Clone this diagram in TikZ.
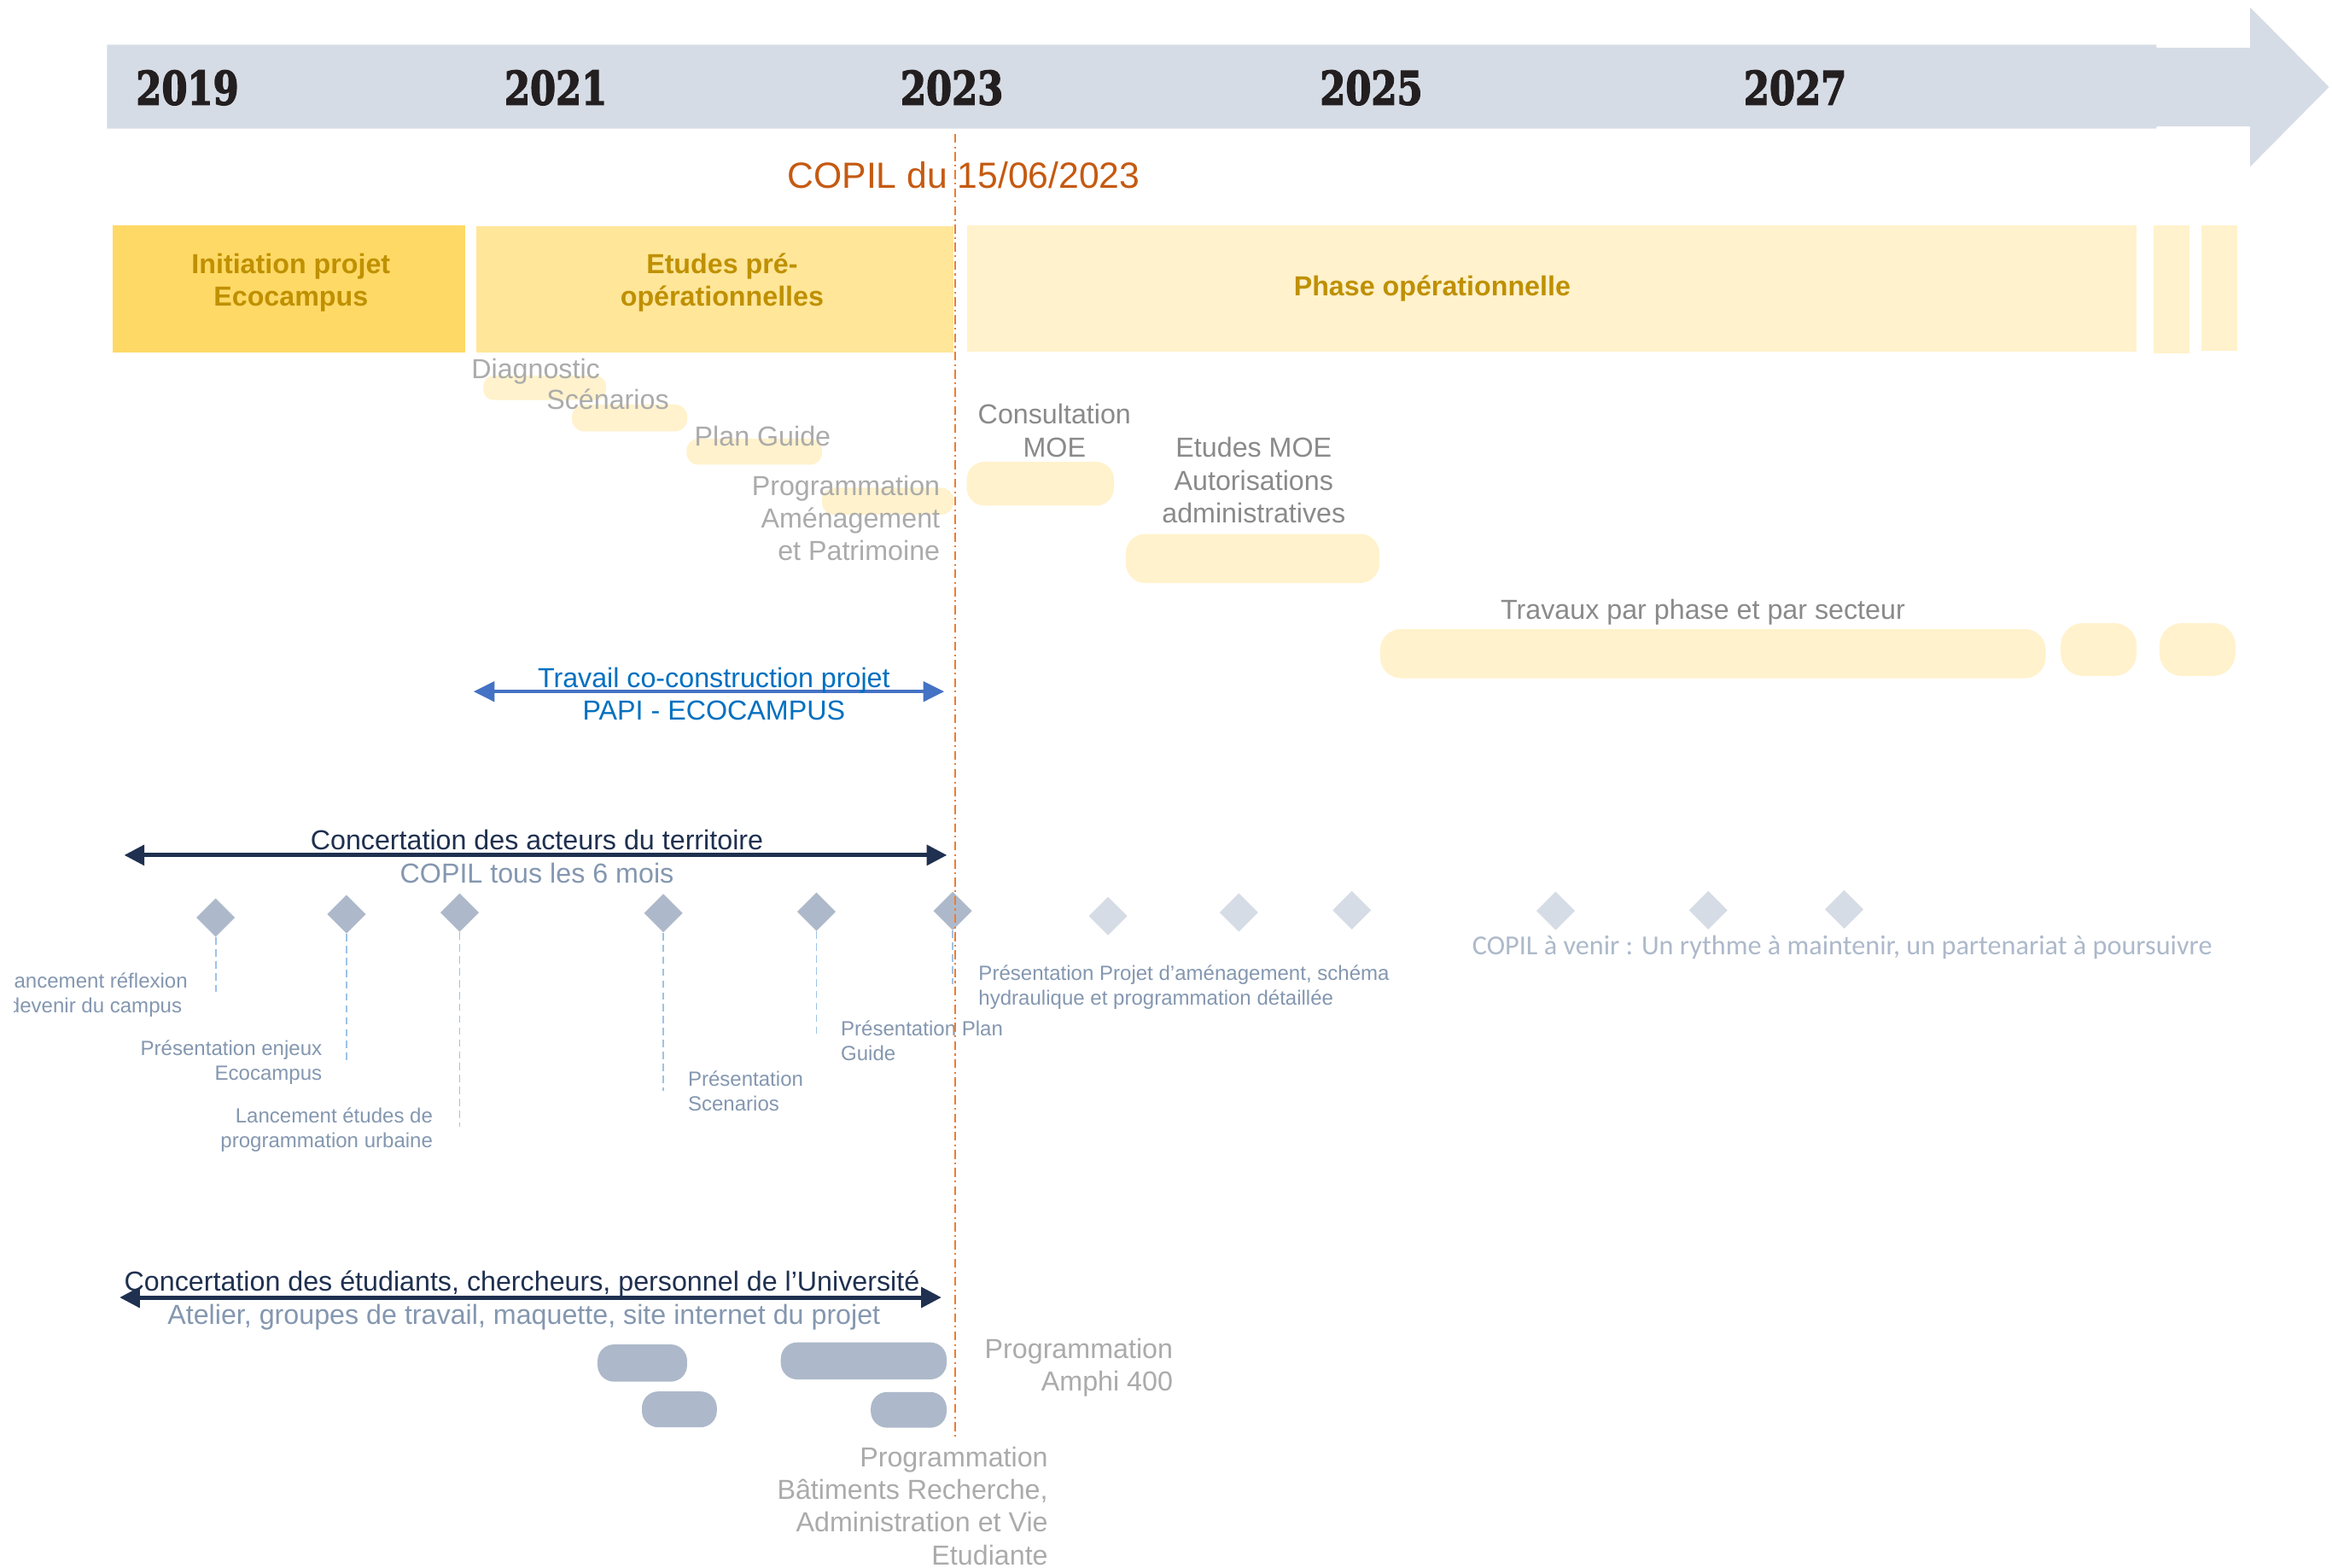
\documentclass[tikz,border=0pt]{standalone}
\usepackage{fontspec}
\usepackage{graphicx}
\setmainfont{Liberation Sans}
\newfontfamily\yearfont{DejaVu Serif}[FakeBold=3]
\newfontfamily\calibfont{Carlito}
\usetikzlibrary{shapes.geometric,arrows.meta}
\definecolor{bandc}{HTML}{D6DCE5}
\definecolor{goldA}{HTML}{FFD966}
\definecolor{goldB}{HTML}{FFE699}
\definecolor{goldC}{HTML}{FFF2CC}
\definecolor{goldtxt}{HTML}{BF9000}
\definecolor{copilc}{HTML}{C55A11}
\definecolor{orline}{HTML}{ED7D31}
\definecolor{lgray}{HTML}{ABABAB}
\definecolor{mgray}{HTML}{8A8A8A}
\definecolor{bluet}{HTML}{0070C0}
\definecolor{bluea}{HTML}{4472C4}
\definecolor{navy}{HTML}{1F3050}
\definecolor{slate}{HTML}{8497B0}
\definecolor{dkd}{HTML}{ADB9CA}
\definecolor{ltd}{HTML}{D6DCE5}
\definecolor{dashc}{HTML}{9DC3E6}
\definecolor{yearc}{HTML}{231F20}
\begin{document}
\begin{tikzpicture}[x=1pt,y=-1pt,
  txt/.style={inner sep=0pt, outer sep=0pt},
  big/.style={txt, font=\fontsize{18.5}{22}\selectfont},
  small/.style={txt, font=\fontsize{13.8}{16.6}\selectfont, text=slate},
  one/.style={text height=#1, text depth=0pt},
  one/.default=13.3pt,
  phasetxt/.style={txt, align=center, text=goldtxt, font=\fontsize{18.5}{22}\selectfont\bfseries},
  yeartxt/.style={txt, one=22.6pt, text=yearc, font={\yearfont\bfseries\fontsize{31}{31}\selectfont}},
  taskbar/.style={fill=goldC},
  greybar/.style={fill=dkd},
  dmd/.style={diamond, minimum width=26pt, minimum height=26pt, inner sep=0pt, draw=none},
  vdash/.style={dashc, line width=1pt, dash pattern=on 5pt off 3pt},
  navyarrow/.style={navy, line width=2.9pt, {Triangle[length=13.6pt,width=13.4pt]}-{Triangle[length=13.6pt,width=13.4pt]}},
  bluearrow/.style={bluea, line width=2pt, {Triangle[length=14pt,width=13.5pt]}-{Triangle[length=14pt,width=13.5pt]}},
  copilline/.style={orline, line width=1.1pt, dash pattern=on 6pt off 2.5pt on 1.2pt off 2.5pt}
]
\useasboundingbox (0,0) rectangle (1568,1054);
\fill[white] (0,0) rectangle (1568,1054);

% timeline band
\fill[bandc] (72,30) -- (1450,30) -- (1450,32) -- (1513,32) -- (1513,5) -- (1566,58.5) -- (1513,112) -- (1513,85) -- (1450,85) -- (1450,86.5) -- (72,86.5) -- cycle;
\node[yeartxt] (y2019) at (126,59) {\scalebox{0.8}[1]{2019}};
\node[yeartxt] (y2021) at (373.7,59) {\scalebox{0.8}[1]{2021}};
\node[yeartxt] (y2023) at (640,59) {\scalebox{0.8}[1]{2023}};
\node[yeartxt] (y2025) at (922,59) {\scalebox{0.8}[1]{2025}};
\node[yeartxt] (y2027) at (1207,59) {\scalebox{0.8}[1]{2027}};

\node[txt, one=17.6pt, text=copilc, font=\fontsize{24.5}{28}\selectfont] (copil) at (648,118) {COPIL du 15/06/2023};

% phase boxes
\fill[goldA] (76,151.5) rectangle (313,237);
\fill[goldB] (320,152) rectangle (641,237);
\fill[goldC] (650,151.5) rectangle (1436.6,236.6);
\fill[goldC] (1448,151.5) rectangle (1472,237.5);
\fill[goldC] (1480,151.5) rectangle (1504,236);
\node[phasetxt] (pinit) at (195.6,190) {Initiation projet\\Ecocampus};
\node[phasetxt] (petud) at (485.5,190) {Etudes pré-\\opérationnelles};
\node[phasetxt, one] (pope) at (963,192.5) {Phase opérationnelle};

% task bars
\fill[taskbar, rounded corners=7] (325,252.6) rectangle (407.5,269);
\fill[taskbar, rounded corners=8] (384.6,272) rectangle (462,290);
\fill[taskbar, rounded corners=8] (461.6,295) rectangle (552.7,312.5);
\fill[taskbar, rounded corners=8] (552.7,328) rectangle (641,346);
\fill[taskbar, rounded corners=12] (650,310.5) rectangle (749,340);
\fill[taskbar, rounded corners=13] (757,359) rectangle (927.5,392);
\fill[taskbar, rounded corners=14] (928,423) rectangle (1375.5,456);
\fill[taskbar, rounded corners=15] (1385.6,419) rectangle (1436.6,454.5);
\fill[taskbar, rounded corners=15] (1452,419) rectangle (1503,454.5);

\node[big, one, anchor=west, text=lgray] (tdiag) at (317,248) {Diagnostic};
\node[big, one, anchor=west, text=lgray] (tscen) at (367.5,268.6) {Scénarios};
\node[big, one, anchor=west, text=lgray] (tplan) at (467,293) {Plan Guide};
\node[big, anchor=east, align=right, text=lgray] (tprog) at (632,348.4) {Programmation\\Aménagement\\et Patrimoine};
\node[big, align=center, text=mgray] (tcons) at (709,289.5) {Consultation\\MOE};
\node[big, align=center, text=mgray] (tmoe) at (843,323) {Etudes MOE\\Autorisations\\administratives};
\node[big, one, text=mgray] (ttrav) at (1145,410) {Travaux par phase et par secteur};

% blue arrow
\coordinate (ba) at (318.5,465);
\coordinate (bb) at (634.8,465);
\draw[bluearrow] (ba) -- (bb);
\node[big, align=center, text=bluet] (tpapi) at (480,466.5) {Travail co-construction projet\\PAPI - ECOCAMPUS};

% concertation acteurs
\coordinate (na) at (83.5,575);
\coordinate (nb) at (636.7,575);
\draw[navyarrow] (na) -- (nb);
\node[big, one, text=navy] (tact) at (361,564.5) {Concertation des acteurs du territoire};
\node[big, one, text=slate] (tcopsix) at (361,587) {COPIL tous les 6 mois};

% diamonds
\node[dmd, fill=dkd] (dk1) at (145,617) {};
\node[dmd, fill=dkd] (dk2) at (233,614.7) {};
\node[dmd, fill=dkd] (dk3) at (309,613.6) {};
\node[dmd, fill=dkd] (dk4) at (446,614) {};
\node[dmd, fill=dkd] (dk5) at (549,613) {};
\node[dmd, fill=dkd] (dk6) at (640.6,612.5) {};
\node[dmd, fill=ltd] (lt1) at (745,616) {};
\node[dmd, fill=ltd] (lt2) at (833,613.5) {};
\node[dmd, fill=ltd] (lt3) at (909,612) {};
\node[dmd, fill=ltd] (lt4) at (1046,612.5) {};
\node[dmd, fill=ltd] (lt5) at (1148.6,612) {};
\node[dmd, fill=ltd] (lt6) at (1240,611.5) {};

\coordinate (e1) at (145,667);
\coordinate (e2) at (233,712.7);
\coordinate (e3) at (309,757.6);
\coordinate (e4) at (446,733.6);
\coordinate (e5) at (549,696);
\coordinate (e6) at (640.6,662);
\draw[vdash] (dk1.south) -- (e1);
\draw[vdash] (dk2.south) -- (e2);
\draw[vdash] (dk3.south) -- (e3);
\draw[vdash] (dk4.south) -- (e4);
\draw[vdash] (dk5.south) -- (e5);
\draw[vdash] (dk6.south) -- (e6);

% labels
\begin{scope}
\clip (9.5,640) rectangle (200,690);
\node[small, align=center] (l1) at (64,669) {Lancement réflexion\\devenir du campus};
\end{scope}
\node[small, anchor=east, align=right] (l2) at (216.5,714.5) {Présentation enjeux\\Ecocampus};
\node[small, anchor=east, align=right] (l3) at (291,759.5) {Lancement études de\\programmation urbaine};
\node[small, anchor=west, align=left] (l4) at (462.6,733.8) {Présentation\\Scenarios};
\node[small, anchor=west, align=left] (l5) at (565.4,699.7) {Présentation Plan\\Guide};
\node[small, anchor=west, align=left] (l6) at (658,664) {Présentation Projet d’aménagement, schéma\\hydraulique et programmation détaillée};
\node[txt, one=11.9pt, anchor=west, text=dkd, font=\calibfont\fontsize{18.5}{22}\selectfont] (l7) at (990,636) {COPIL à venir : Un rythme à maintenir, un partenariat à poursuivre};

% concertation etudiants
\coordinate (sa) at (80.4,872.4);
\coordinate (sb) at (633,872.4);
\draw[navyarrow] (sa) -- (sb);
\node[big, one, text=navy] (tetudiants) at (351,861.5) {Concertation des étudiants, chercheurs, personnel de l’Université};
\node[big, one, text=slate] (tatel) at (352.3,884) {Atelier, groupes de travail, maquette, site internet du projet};

\fill[greybar, rounded corners=11] (401.8,904) rectangle (462,929);
\fill[greybar, rounded corners=11] (525,902.6) rectangle (636.5,927.5);
\fill[greybar, rounded corners=11] (431.6,935.6) rectangle (482,959.7);
\fill[greybar, rounded corners=11] (585.5,936) rectangle (636.5,960);
\node[big, anchor=east, align=right, text=lgray] (tamphi) at (788.6,919.5) {Programmation\\Amphi 400};
\node[big, anchor=east, align=right, text=lgray] (tbat) at (704.6,1012.5) {Programmation\\Bâtiments Recherche,\\Administration et Vie\\Etudiante};

% COPIL date line
\coordinate (ot) at (642,90);
\coordinate (ob) at (642,968);
\draw[copilline] (ot) -- (ob);
\end{tikzpicture}
\end{document}
